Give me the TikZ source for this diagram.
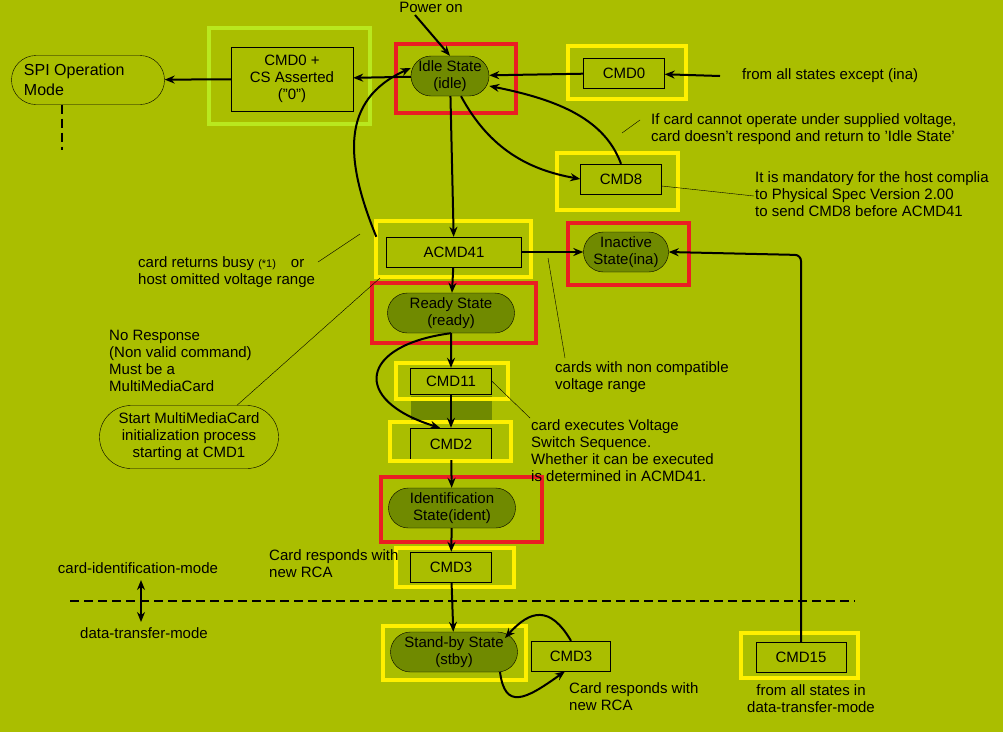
\documentclass[tikz,border=0pt]{standalone}
\usepackage{fontspec}
\setmainfont{Liberation Sans}
\usetikzlibrary{shapes.misc, arrows.meta}
\definecolor{bg}{RGB}{170,190,0}
\definecolor{olive}{RGB}{112,138,0}
\definecolor{hlyellow}{RGB}{255,240,0}
\definecolor{hlred}{RGB}{235,30,35}
\definecolor{hllime}{RGB}{185,232,30}
\begin{document}
\begin{tikzpicture}[
    x=1pt, y=-1pt,
    >={Stealth[length=10pt, width=8pt]},
    every node/.style = {font=\fontsize{15}{17}\selectfont, inner sep=1pt},
    state/.style = {draw, rounded rectangle, fill=olive, minimum width=78pt, minimum height=40pt, align=center, inner sep=0pt},
    cmd/.style   = {draw, minimum width=81pt, minimum height=30pt, align=center},
    note/.style  = {anchor=west, align=left},
    hl/.style    = {line width=4pt},
    flow/.style  = {->, line width=2pt},
    sep/.style   = {line width=2pt, dash pattern=on 9pt off 5pt},
  ]
    \fill[bg] (0,0) rectangle (1003,732);
	
	% Zustaende
	\node[state, minimum width=153pt, minimum height=49pt, fill=none, align=left, font=\fontsize{16}{20}\selectfont] (spi) at (88,80) {SPI Operation\\Mode\hspace*{5.5em}};
	\node[cmd, minimum width=122pt, minimum height=64pt] (cmdcs) at (292,79) {CMD0 +\\CS Asserted\\("0")};
	\node[state] (idle) at (450,76) {Idle State\\(idle)};
	\node[cmd] (cmdzero) at (624,73) {CMD0};
	\node[cmd] (cmdeight) at (621,179) {CMD8};
	\node[cmd, minimum width=135pt] (acmd) at (454,252) {ACMD41};
	\node[state, minimum width=85pt] (ina) at (626,252) {Inactive\\State(ina)};
	\node[state, minimum width=127pt] (ready) at (451,313) {Ready State\\(ready)};
	\fill[olive] (411,396) rectangle (492,420);
	\node[cmd, minimum height=26pt] (cmdeleven) at (451,381) {CMD11};
	\node[cmd, minimum height=32pt] (cmdtwo) at (451,444) {CMD2};
	\node[state, minimum width=127pt] (ident) at (452,508) {Identification\\State(ident)};
	\node[cmd] (cmdthree) at (451,567) {CMD3};
	\node[state, minimum width=127pt] (stby) at (454,652) {Stand-by State\\(stby)};
	\node[cmd, minimum width=79pt] (cmdthreeb) at (571,656) {CMD3};
	\node[cmd, minimum width=90pt] (cmdfifteen) at (801,657) {CMD15};
	\node[state, minimum width=179pt, minimum height=63pt, fill=none] (mmc) at (189,437) {Start MultiMediaCard\\initialization process\\starting at CMD1};
	
	% Markierungen
	\draw[hl, hllime] (209,28) rectangle (370,124);
	\draw[hl, hlred] (396,44) rectangle (516,113);
	\draw[hl, hlyellow] (568,46) rectangle (686,99);
	\draw[hl, hlyellow] (557,153) rectangle (678,210);
	\draw[hl, hlyellow] (376,221) rectangle (531,277);
	\draw[hl, hlred] (568,223) rectangle (689,285);
	\draw[hl, hlred] (372,283) rectangle (536,343);
	\draw[hl, hlyellow] (396,363) rectangle (508,399);
	\draw[hl, hlyellow] (390,422) rectangle (511,461);
	\draw[hl, hlred] (381,477) rectangle (542,542);
	\draw[hl, hlyellow] (396,548) rectangle (514,587);
	\draw[hl, hlyellow] (383,626) rectangle (526,680);
	\draw[hl, hlyellow] (741,633) rectangle (858,678);
	
	% Texte
	\node (pwr) at (431,7) {Power on};
	\node[note] (fromall) at (741,76) {from all states except (ina)};
	\node[note] (cannot) at (650,129) {If card cannot operate under supplied voltage,\\card doesn't respond and return to 'Idle State'};
	\node[note] (mandatory) at (754,194) {It is mandatory for the host complia\\to Physical Spec Version 2.00\\to send CMD8 before ACMD41};
	\node[note] (busy) at (137,272) {card returns busy {\fontsize{11}{12}\selectfont(*1)}\quad or\\host omitted voltage range};
	\node[note] (noresp) at (108,361) {No Response\\(Non valid command)\\Must be a\\MultiMediaCard};
	\node[note] (noncomp) at (554,377) {cards with non compatible\\voltage range};
	\node[note] (switch) at (530,451) {card executes Voltage\\Switch Sequence.\\Whether it can be executed\\is determined in ACMD41.};
	\node[note] (rcaa) at (268,564) {Card responds with\\new RCA};
	\node[note] (rcab) at (568,697) {Card responds with\\new RCA};
	\node[align=center] (fromdt) at (811,699) {from all states in\\data-transfer-mode};
	\node (cim) at (138,568) {card-identification-mode};
	\node (dtm) at (144,633) {data-transfer-mode};
	
	% Modusgrenze
	\draw[sep] (70,601) -- (855,601);
	\draw[<->, line width=2pt] (141,580) -- (141,622);
	\draw[sep] (spi.south -| 62,0) -- (62,150);
	
	% Uebergaenge
	\draw[flow] (415,15) -- (idle.north);
	\draw[flow] (idle) -- (cmdcs);
	\draw[flow] (cmdcs) -- (spi);
	\draw[flow] (720,76) -- (cmdzero);
	\draw[flow] (cmdzero) -- (idle);
	\draw[flow] (idle) -- (acmd);
	\draw[flow] (idle.south east) ++(-8,0) .. controls (490,150) and (530,170) .. (cmdeight.west);
	\draw[flow] (cmdeight.north) .. controls (605,120) and (560,100) .. (idle.east |- 0,86);
	\draw[flow] (acmd.north west) ++(-10,0) .. controls (345,160) and (340,100) .. (idle.west |- 0,68);
	\draw[flow] (acmd) -- (ina);
	\draw[flow, rounded corners=6pt] (cmdfifteen.north) -- (801,255) -- (ina.east);
	\draw[flow] (acmd) -- (ready);
	\draw[flow] (ready) -- (cmdeleven);
	\draw[flow] (cmdeleven) -- (cmdtwo);
	\draw[flow] (ready.south) .. controls (360,345) and (350,400) .. (cmdtwo.north west -| 440,0);
	\draw[flow] (cmdtwo) -- (ident);
	\draw[flow] (ident) -- (cmdthree);
	\draw[flow] (cmdthree) -- (stby);
	\draw[flow] (cmdthreeb.north) .. controls (550,605) and (530,610) .. (505,638);
	\draw[flow] (500,672) .. controls (505,710) and (525,700) .. (cmdthreeb.south west -| 565,0);
	
	% Hinweislinien
	\draw (318,262) -- (360,234);
	\draw (mmc.north east) ++(-10,0) -- (380,278);
	\draw (622,133) -- (640,120);
	\draw (cmdeight.east |- 0,186) -- (754,196);
	\draw (548,258) -- (565,358);
	\draw (cmdeleven.east) -- (530,418);
\end{tikzpicture}
\end{document}
